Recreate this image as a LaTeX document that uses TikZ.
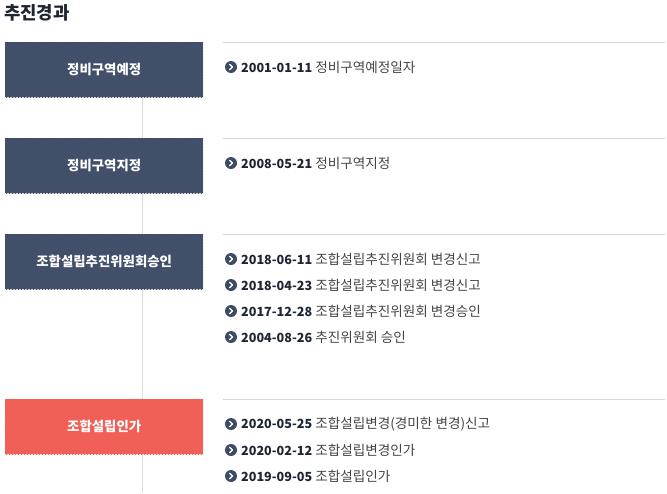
\documentclass[tikz,border=0pt]{standalone}
\usepackage{fontspec}
\setmainfont{Noto Sans CJK KR}
\definecolor{navy}{HTML}{3E4B65}
\definecolor{navyhatch}{HTML}{47546F}
\definecolor{coral}{HTML}{F05A50}
\definecolor{coralhatch}{HTML}{F2665D}
\definecolor{sepline}{HTML}{D8D8D8}
\definecolor{vline}{HTML}{DDDDDD}
\definecolor{datecol}{HTML}{1E2533}
\definecolor{txtcol}{HTML}{444444}
\definecolor{titlecol}{HTML}{1E2533}
\newcommand{\hatchlines}[1]{\foreach \i in {-60,-57,...,200}{\draw[#1,line width=1pt] ([xshift=\i pt]path picture bounding box.north west) -- ++(56,56);}}
\tikzset{
  stagebox/.style={minimum width=198pt,minimum height=55pt,inner sep=0pt,
    text=white,font=\fontsize{13.4}{15}\selectfont\bfseries,anchor=north west},
  navybox/.style={stagebox,fill=navy,path picture={\hatchlines{navyhatch}}},
  coralbox/.style={stagebox,fill=coral,path picture={\hatchlines{coralhatch}}},
  sep/.style={draw=sepline,line width=1pt},
  bul/.style={circle,fill=navy,minimum size=12pt,inner sep=0pt},
  entry/.style={anchor=west,inner sep=0pt,font=\fontsize{13.6}{15}\selectfont,text=txtcol},
}
\newcommand{\dte}[1]{{\fontsize{12.6}{15}\selectfont\bfseries\color{datecol}#1}}
\newcommand{\chev}[1]{\draw[white,line width=1.3pt,line cap=round,line join=round] ([xshift=-1.3pt,yshift=-2.6pt]#1.center) -- ([xshift=1.5pt]#1.center) -- ([xshift=-1.3pt,yshift=2.6pt]#1.center);}
\begin{document}
\begin{tikzpicture}[x=1pt,y=-1pt]
\useasboundingbox (0,0) rectangle (667,493);
% title
\node[anchor=west,inner sep=0pt,font=\fontsize{17.8}{20}\selectfont\bfseries,text=titlecol] (title) at (4,13) {추진경과};
% timeline
\coordinate (vtop) at (142,97);
\coordinate (vbot) at (142,493);
\draw[vline,line width=1pt] (vtop) -- (vbot);
% separators
\coordinate (s1a) at (223,42.5); \coordinate (s1b) at (665,42.5);
\coordinate (s2a) at (223,138.5); \coordinate (s2b) at (665,138.5);
\coordinate (s3a) at (223,234.5); \coordinate (s3b) at (665,234.5);
\coordinate (s4a) at (223,399.5); \coordinate (s4b) at (665,399.5);
\draw[sep] (s1a) -- (s1b);
\draw[sep] (s2a) -- (s2b);
\draw[sep] (s3a) -- (s3b);
\draw[sep] (s4a) -- (s4b);
% boxes
\node[navybox] (b1) at (5,42) {정비구역예정};
\node[navybox] (b2) at (5,138) {정비구역지정};
\node[navybox] (b3) at (5,234) {조합설립추진위원회승인};
\node[coralbox] (b4) at (5,399) {조합설립인가};
% entries
\node[bul] (u1) at (231,67) {}; \chev{u1}
\node[entry] (e1) at (241,67) {\dte{2001-01-11} 정비구역예정일자};
\node[bul] (u2) at (231,163) {}; \chev{u2}
\node[entry] (e2) at (241,163) {\dte{2008-05-21} 정비구역지정};
\node[bul] (u3) at (231,259) {}; \chev{u3}
\node[entry] (e3) at (241,259) {\dte{2018-06-11} 조합설립추진위원회 변경신고};
\node[bul] (u4) at (231,285) {}; \chev{u4}
\node[entry] (e4) at (241,285) {\dte{2018-04-23} 조합설립추진위원회 변경신고};
\node[bul] (u5) at (231,311) {}; \chev{u5}
\node[entry] (e5) at (241,311) {\dte{2017-12-28} 조합설립추진위원회 변경승인};
\node[bul] (u6) at (231,337) {}; \chev{u6}
\node[entry] (e6) at (241,337) {\dte{2004-08-26} 추진위원회 승인};
\node[bul] (u7) at (231,424) {}; \chev{u7}
\node[entry] (e7) at (241,424) {\dte{2020-05-25} 조합설립변경(경미한 변경)신고};
\node[bul] (u8) at (231,450) {}; \chev{u8}
\node[entry] (e8) at (241,450) {\dte{2020-02-12} 조합설립변경인가};
\node[bul] (u9) at (231,476) {}; \chev{u9}
\node[entry] (e9) at (241,476) {\dte{2019-09-05} 조합설립인가};
\end{tikzpicture}
\end{document}
